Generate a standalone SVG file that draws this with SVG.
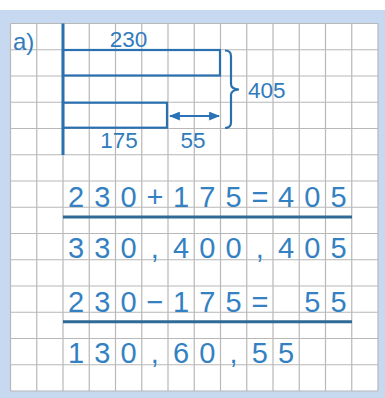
<svg xmlns="http://www.w3.org/2000/svg" width="385" height="398" viewBox="0 0 385 398">
<defs>
<style>
.grid{stroke:#b8b8b8;stroke-width:1.2;fill:none}
.ln{stroke:#2a6fae;fill:none;stroke-width:2.2}
.lbl{font-family:"Liberation Sans",Arial,sans-serif;font-size:22.5px;fill:#2f7bbd}
.eq{font-family:"Liberation Sans",Arial,sans-serif;font-size:29px;fill:#3381c2;text-anchor:middle}
.rule{stroke:#2e6a96;stroke-width:3}
</style>
<marker id="ah" viewBox="0 0 10 8" refX="9" refY="4" markerWidth="11" markerHeight="9" markerUnits="userSpaceOnUse" orient="auto-start-reverse">
<path d="M0,0 L10,4 L0,8 z" fill="#2a72b8"/>
</marker>
</defs>
<g id="frame">
<rect x="0" y="0" width="385" height="398" fill="#ffffff"/>
<rect x="0" y="10" width="385" height="388" fill="#c7d9f0"/>
<rect x="10.5" y="23.5" width="367.5" height="367.5" fill="#ffffff"/>
<path class="grid" d="M10.5 23.5V391M36.75 23.5V391M63 23.5V391M89.25 23.5V391M115.5 23.5V391M141.75 23.5V391M168 23.5V391M194.25 23.5V391M220.5 23.5V391M246.75 23.5V391M273 23.5V391M299.25 23.5V391M325.5 23.5V391M351.75 23.5V391M378 23.5V391
M10.5 23.5H378M10.5 49.75H378M10.5 76H378M10.5 102.25H378M10.5 128.5H378M10.5 154.75H378M10.5 181H378M10.5 207.25H378M10.5 233.5H378M10.5 259.75H378M10.5 286H378M10.5 312.25H378M10.5 338.5H378M10.5 364.75H378M10.5 391H378"/>
</g>
<g id="label-a"><text class="lbl" x="13" y="50" style="font-size:24px">a)</text></g>
<g id="bar-diagram">
<line x1="63" y1="23.5" x2="63" y2="155" stroke="#2a6fae" stroke-width="3"/>
<g id="bar-230">
<rect class="ln" x="63" y="50" width="157" height="25.5"/>
<text class="lbl" x="128.5" y="47" text-anchor="middle">230</text>
</g>
<g id="bar-175">
<rect class="ln" x="63" y="102.7" width="104" height="25"/>
<text class="lbl" x="119" y="148" text-anchor="middle">175</text>
</g>
<g id="diff-55">
<text class="lbl" x="193" y="148" text-anchor="middle">55</text>
</g>
<g id="sum-405">
<path class="ln" d="M225 50.5 Q231 50.5 231 56 V84 Q231 89 239 89.5 Q231 90 231 95 V122.5 Q231 128 225 128"/>
<text class="lbl" x="248" y="98">405</text>
</g>
</g>
<g id="connectors">
<line x1="170" y1="116" x2="219" y2="116" stroke="#2a72b8" stroke-width="2" marker-start="url(#ah)" marker-end="url(#ah)"/>
</g>
<g id="equations">
<text class="eq" y="206.5" x="76.1 102.4 128.6 154.9 181.1 207.4 233.6 259.9 286.1 312.4 338.6">230+175=405</text>
<line class="rule" x1="63" y1="217" x2="352" y2="217"/>
<text class="eq" y="257.5" x="76.1 102.4 128.6 154.9 181.1 207.4 233.6 259.9 286.1 312.4 338.6">330,400,405</text>
<text class="eq" y="311.5" x="76.1 102.4 128.6 154.9 181.1 207.4 233.6 259.9">230−175=</text>
<text class="eq" y="311.5" x="312.4 338.6">55</text>
<line class="rule" x1="63" y1="321.7" x2="352" y2="321.7"/>
<text class="eq" y="363" x="76.1 102.4 128.6 154.9 181.1 207.4 233.6 259.9 286.1">130,60,55</text>
</g>
</svg>
